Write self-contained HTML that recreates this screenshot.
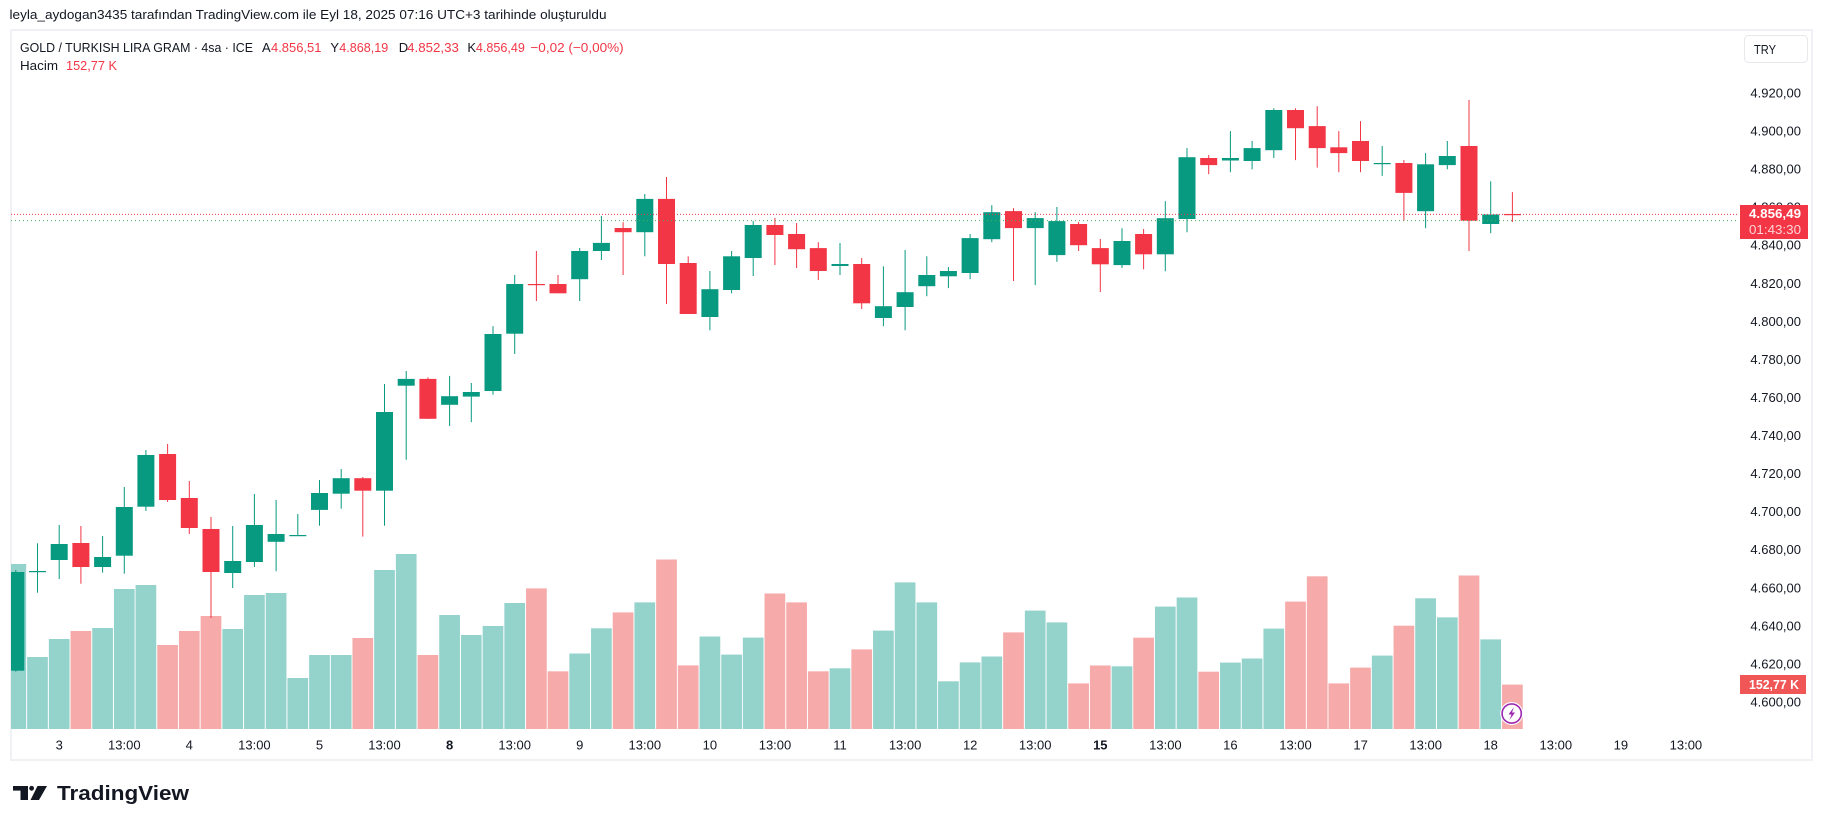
<!DOCTYPE html>
<html><head><meta charset="utf-8">
<style>
html,body{margin:0;padding:0;background:#fff;}
body{width:1824px;height:829px;overflow:hidden;}
svg{display:block;font-family:"Liberation Sans",Arial,sans-serif;}
.G{fill:#089981}.R{fill:#f23645}.gv{fill:#94d2cc}.rv{fill:#f6aaaa}
.t{font-size:13px;fill:#131722;dominant-baseline:central}
.ta{font-size:13px;fill:#131722;dominant-baseline:central;text-anchor:middle}
.pa{font-size:13px;fill:#131722;dominant-baseline:central;text-anchor:end}
.red{fill:#f23645}
</style></head>
<body>
<svg width="1824" height="829" viewBox="0 0 1824 829" xmlns="http://www.w3.org/2000/svg">
<defs><clipPath id="plot"><rect x="11" y="30" width="1727" height="699"/></clipPath></defs>
<rect x="0" y="0" width="1824" height="829" fill="#fff"/>
<text x="9.5" y="15" class="t" style="font-size:12.5px" textLength="597" lengthAdjust="spacingAndGlyphs">leyla_aydogan3435 tarafından TradingView.com ile Eyl 18, 2025 07:16 UTC+3 tarihinde oluşturuldu</text>
<rect x="11" y="30" width="1801" height="730" fill="none" stroke="#eff1f4" stroke-width="2"/>

<g clip-path="url(#plot)">
<g transform="translate(15.8 0)"><rect class="gv" x="-10.35" y="564" width="20.7" height="165"/><rect class="G" x="-.5" y="570" width="1" height="101.7"/><rect class="G" x="-8.5" y="572" width="17" height="98.7"/></g>
<g transform="translate(37.5 0)"><rect class="gv" x="-10.35" y="657" width="20.7" height="72"/><rect class="G" x="-.5" y="543.3" width="1" height="49.4"/><rect class="G" x="-8.5" y="571" width="17" height="1.2"/></g>
<g transform="translate(59.2 0)"><rect class="gv" x="-10.35" y="639" width="20.7" height="90"/><rect class="G" x="-.5" y="525" width="1" height="54"/><rect class="G" x="-8.5" y="544" width="17" height="16"/></g>
<g transform="translate(80.9 0)"><rect class="rv" x="-10.35" y="631" width="20.7" height="98"/><rect class="R" x="-.5" y="526" width="1" height="57.7"/><rect class="R" x="-8.5" y="543" width="17" height="24"/></g>
<g transform="translate(102.6 0)"><rect class="gv" x="-10.35" y="628" width="20.7" height="101"/><rect class="G" x="-.5" y="536" width="1" height="36.7"/><rect class="G" x="-8.5" y="557" width="17" height="10"/></g>
<g transform="translate(124.3 0)"><rect class="gv" x="-10.35" y="589" width="20.7" height="140"/><rect class="G" x="-.5" y="487" width="1" height="86.7"/><rect class="G" x="-8.5" y="507" width="17" height="48.7"/></g>
<g transform="translate(145.9 0)"><rect class="gv" x="-10.35" y="585" width="20.7" height="144"/><rect class="G" x="-.5" y="450" width="1" height="61"/><rect class="G" x="-8.5" y="455" width="17" height="51.7"/></g>
<g transform="translate(167.6 0)"><rect class="rv" x="-10.35" y="645" width="20.7" height="84"/><rect class="R" x="-.5" y="444" width="1" height="58"/><rect class="R" x="-8.5" y="454" width="17" height="46"/></g>
<g transform="translate(189.3 0)"><rect class="rv" x="-10.35" y="631" width="20.7" height="98"/><rect class="R" x="-.5" y="481" width="1" height="53"/><rect class="R" x="-8.5" y="498" width="17" height="30"/></g>
<g transform="translate(211.0 0)"><rect class="rv" x="-10.35" y="616" width="20.7" height="113"/><rect class="R" x="-.5" y="517" width="1" height="101"/><rect class="R" x="-8.5" y="529" width="17" height="43"/></g>
<g transform="translate(232.7 0)"><rect class="gv" x="-10.35" y="629" width="20.7" height="100"/><rect class="G" x="-.5" y="526" width="1" height="62"/><rect class="G" x="-8.5" y="561" width="17" height="12"/></g>
<g transform="translate(254.4 0)"><rect class="gv" x="-10.35" y="595" width="20.7" height="134"/><rect class="G" x="-.5" y="494" width="1" height="73"/><rect class="G" x="-8.5" y="525" width="17" height="37"/></g>
<g transform="translate(276.1 0)"><rect class="gv" x="-10.35" y="593" width="20.7" height="136"/><rect class="G" x="-.5" y="500" width="1" height="71.2"/><rect class="G" x="-8.5" y="534" width="17" height="7.8"/></g>
<g transform="translate(297.8 0)"><rect class="gv" x="-10.35" y="678" width="20.7" height="51"/><rect class="G" x="-.5" y="514" width="1" height="22"/><rect class="G" x="-8.5" y="535" width="17" height="1.2"/></g>
<g transform="translate(319.5 0)"><rect class="gv" x="-10.35" y="655" width="20.7" height="74"/><rect class="G" x="-.5" y="480" width="1" height="45.7"/><rect class="G" x="-8.5" y="493" width="17" height="16.9"/></g>
<g transform="translate(341.2 0)"><rect class="gv" x="-10.35" y="655" width="20.7" height="74"/><rect class="G" x="-.5" y="469" width="1" height="39.7"/><rect class="G" x="-8.5" y="478.2" width="17" height="15.5"/></g>
<g transform="translate(362.8 0)"><rect class="rv" x="-10.35" y="638" width="20.7" height="91"/><rect class="R" x="-.5" y="477" width="1" height="59.6"/><rect class="R" x="-8.5" y="478.2" width="17" height="12.5"/></g>
<g transform="translate(384.5 0)"><rect class="gv" x="-10.35" y="570" width="20.7" height="159"/><rect class="G" x="-.5" y="384" width="1" height="141.7"/><rect class="G" x="-8.5" y="412" width="17" height="78.7"/></g>
<g transform="translate(406.2 0)"><rect class="gv" x="-10.35" y="554" width="20.7" height="175"/><rect class="G" x="-.5" y="371" width="1" height="88.8"/><rect class="G" x="-8.5" y="378.9" width="17" height="6.8"/></g>
<g transform="translate(427.9 0)"><rect class="rv" x="-10.35" y="655" width="20.7" height="74"/><rect class="R" x="-.5" y="377.4" width="1" height="41.4"/><rect class="R" x="-8.5" y="378.9" width="17" height="39.9"/></g>
<g transform="translate(449.6 0)"><rect class="gv" x="-10.35" y="615" width="20.7" height="114"/><rect class="G" x="-.5" y="375.9" width="1" height="50.1"/><rect class="G" x="-8.5" y="396.2" width="17" height="8.6"/></g>
<g transform="translate(471.3 0)"><rect class="gv" x="-10.35" y="635" width="20.7" height="94"/><rect class="G" x="-.5" y="383" width="1" height="39.2"/><rect class="G" x="-8.5" y="392" width="17" height="4.6"/></g>
<g transform="translate(493.0 0)"><rect class="gv" x="-10.35" y="626" width="20.7" height="103"/><rect class="G" x="-.5" y="326.2" width="1" height="68.5"/><rect class="G" x="-8.5" y="334" width="17" height="57"/></g>
<g transform="translate(514.7 0)"><rect class="gv" x="-10.35" y="603" width="20.7" height="126"/><rect class="G" x="-.5" y="275" width="1" height="79"/><rect class="G" x="-8.5" y="284" width="17" height="49.7"/></g>
<g transform="translate(536.4 0)"><rect class="rv" x="-10.35" y="588.4" width="20.7" height="140.6"/><rect class="R" x="-.5" y="251" width="1" height="50"/><rect class="R" x="-8.5" y="284" width="17" height="1.2"/></g>
<g transform="translate(558.0 0)"><rect class="rv" x="-10.35" y="671.3" width="20.7" height="57.7"/><rect class="R" x="-.5" y="275" width="1" height="18.3"/><rect class="R" x="-8.5" y="284" width="17" height="9.3"/></g>
<g transform="translate(579.7 0)"><rect class="gv" x="-10.35" y="653.5" width="20.7" height="75.5"/><rect class="G" x="-.5" y="248" width="1" height="53"/><rect class="G" x="-8.5" y="251" width="17" height="28.2"/></g>
<g transform="translate(601.4 0)"><rect class="gv" x="-10.35" y="628.3" width="20.7" height="100.7"/><rect class="G" x="-.5" y="216" width="1" height="44"/><rect class="G" x="-8.5" y="242.9" width="17" height="8.1"/></g>
<g transform="translate(623.1 0)"><rect class="rv" x="-10.35" y="612.4" width="20.7" height="116.6"/><rect class="R" x="-.5" y="222.2" width="1" height="52.8"/><rect class="R" x="-8.5" y="228" width="17" height="4.2"/></g>
<g transform="translate(644.8 0)"><rect class="gv" x="-10.35" y="602.4" width="20.7" height="126.6"/><rect class="G" x="-.5" y="194" width="1" height="62.3"/><rect class="G" x="-8.5" y="198.9" width="17" height="33.3"/></g>
<g transform="translate(666.5 0)"><rect class="rv" x="-10.35" y="559.5" width="20.7" height="169.5"/><rect class="R" x="-.5" y="177" width="1" height="127"/><rect class="R" x="-8.5" y="198.9" width="17" height="65.1"/></g>
<g transform="translate(688.2 0)"><rect class="rv" x="-10.35" y="665.4" width="20.7" height="63.6"/><rect class="R" x="-.5" y="256.3" width="1" height="57.7"/><rect class="R" x="-8.5" y="263" width="17" height="51"/></g>
<g transform="translate(709.9 0)"><rect class="gv" x="-10.35" y="636.5" width="20.7" height="92.5"/><rect class="G" x="-.5" y="271" width="1" height="59.3"/><rect class="G" x="-8.5" y="289.2" width="17" height="27.8"/></g>
<g transform="translate(731.6 0)"><rect class="gv" x="-10.35" y="654.6" width="20.7" height="74.4"/><rect class="G" x="-.5" y="251" width="1" height="42.3"/><rect class="G" x="-8.5" y="256.3" width="17" height="33.7"/></g>
<g transform="translate(753.2 0)"><rect class="gv" x="-10.35" y="637.6" width="20.7" height="91.4"/><rect class="G" x="-.5" y="221" width="1" height="55"/><rect class="G" x="-8.5" y="225" width="17" height="33"/></g>
<g transform="translate(774.9 0)"><rect class="rv" x="-10.35" y="593.5" width="20.7" height="135.5"/><rect class="R" x="-.5" y="218" width="1" height="47"/><rect class="R" x="-8.5" y="225" width="17" height="10"/></g>
<g transform="translate(796.6 0)"><rect class="rv" x="-10.35" y="602.4" width="20.7" height="126.6"/><rect class="R" x="-.5" y="223" width="1" height="45"/><rect class="R" x="-8.5" y="234" width="17" height="15.2"/></g>
<g transform="translate(818.3 0)"><rect class="rv" x="-10.35" y="671.3" width="20.7" height="57.7"/><rect class="R" x="-.5" y="242.2" width="1" height="37.8"/><rect class="R" x="-8.5" y="248.1" width="17" height="22.9"/></g>
<g transform="translate(840.0 0)"><rect class="gv" x="-10.35" y="668.3" width="20.7" height="60.7"/><rect class="G" x="-.5" y="243" width="1" height="32"/><rect class="G" x="-8.5" y="264" width="17" height="2"/></g>
<g transform="translate(861.7 0)"><rect class="rv" x="-10.35" y="649.4" width="20.7" height="79.6"/><rect class="R" x="-.5" y="258" width="1" height="51"/><rect class="R" x="-8.5" y="264" width="17" height="39.3"/></g>
<g transform="translate(883.4 0)"><rect class="gv" x="-10.35" y="630.6" width="20.7" height="98.4"/><rect class="G" x="-.5" y="266.3" width="1" height="59.9"/><rect class="G" x="-8.5" y="306.2" width="17" height="11.8"/></g>
<g transform="translate(905.1 0)"><rect class="gv" x="-10.35" y="582.4" width="20.7" height="146.6"/><rect class="G" x="-.5" y="250" width="1" height="80.3"/><rect class="G" x="-8.5" y="292.2" width="17" height="14.8"/></g>
<g transform="translate(926.8 0)"><rect class="gv" x="-10.35" y="602.4" width="20.7" height="126.6"/><rect class="G" x="-.5" y="256.3" width="1" height="39.9"/><rect class="G" x="-8.5" y="275" width="17" height="11.2"/></g>
<g transform="translate(948.4 0)"><rect class="gv" x="-10.35" y="681.3" width="20.7" height="47.7"/><rect class="G" x="-.5" y="267" width="1" height="21.1"/><rect class="G" x="-8.5" y="271" width="17" height="5.3"/></g>
<g transform="translate(970.1 0)"><rect class="gv" x="-10.35" y="662.4" width="20.7" height="66.6"/><rect class="G" x="-.5" y="234" width="1" height="45.2"/><rect class="G" x="-8.5" y="238.1" width="17" height="34.9"/></g>
<g transform="translate(991.8 0)"><rect class="gv" x="-10.35" y="656.5" width="20.7" height="72.5"/><rect class="G" x="-.5" y="205.2" width="1" height="37"/><rect class="G" x="-8.5" y="212.2" width="17" height="27"/></g>
<g transform="translate(1013.5 0)"><rect class="rv" x="-10.35" y="632.4" width="20.7" height="96.6"/><rect class="R" x="-.5" y="208.1" width="1" height="72.9"/><rect class="R" x="-8.5" y="211.1" width="17" height="17"/></g>
<g transform="translate(1035.2 0)"><rect class="gv" x="-10.35" y="610.6" width="20.7" height="118.4"/><rect class="G" x="-.5" y="212.2" width="1" height="72.9"/><rect class="G" x="-8.5" y="218.1" width="17" height="10"/></g>
<g transform="translate(1056.9 0)"><rect class="gv" x="-10.35" y="622.4" width="20.7" height="106.6"/><rect class="G" x="-.5" y="207" width="1" height="54.8"/><rect class="G" x="-8.5" y="221.1" width="17" height="34"/></g>
<g transform="translate(1078.6 0)"><rect class="rv" x="-10.35" y="683.4" width="20.7" height="45.6"/><rect class="R" x="-.5" y="222" width="1" height="29"/><rect class="R" x="-8.5" y="224" width="17" height="21.2"/></g>
<g transform="translate(1100.3 0)"><rect class="rv" x="-10.35" y="665.5" width="20.7" height="63.5"/><rect class="R" x="-.5" y="239" width="1" height="53"/><rect class="R" x="-8.5" y="248.1" width="17" height="16.2"/></g>
<g transform="translate(1122.0 0)"><rect class="gv" x="-10.35" y="666.3" width="20.7" height="62.7"/><rect class="G" x="-.5" y="228.2" width="1" height="39.8"/><rect class="G" x="-8.5" y="241" width="17" height="24.1"/></g>
<g transform="translate(1143.6 0)"><rect class="rv" x="-10.35" y="637.7" width="20.7" height="91.3"/><rect class="R" x="-.5" y="229" width="1" height="40.3"/><rect class="R" x="-8.5" y="234" width="17" height="20.3"/></g>
<g transform="translate(1165.3 0)"><rect class="gv" x="-10.35" y="606.6" width="20.7" height="122.4"/><rect class="G" x="-.5" y="201.2" width="1" height="70.1"/><rect class="G" x="-8.5" y="218.2" width="17" height="36.1"/></g>
<g transform="translate(1187.0 0)"><rect class="gv" x="-10.35" y="597.5" width="20.7" height="131.5"/><rect class="G" x="-.5" y="148.1" width="1" height="84.2"/><rect class="G" x="-8.5" y="157.2" width="17" height="61.8"/></g>
<g transform="translate(1208.7 0)"><rect class="rv" x="-10.35" y="671.7" width="20.7" height="57.3"/><rect class="R" x="-.5" y="155.1" width="1" height="19.1"/><rect class="R" x="-8.5" y="158" width="17" height="7.1"/></g>
<g transform="translate(1230.4 0)"><rect class="gv" x="-10.35" y="662.6" width="20.7" height="66.4"/><rect class="G" x="-.5" y="131.1" width="1" height="41.1"/><rect class="G" x="-8.5" y="158" width="17" height="2.5"/></g>
<g transform="translate(1252.1 0)"><rect class="gv" x="-10.35" y="658.5" width="20.7" height="70.5"/><rect class="G" x="-.5" y="141" width="1" height="28.3"/><rect class="G" x="-8.5" y="148.1" width="17" height="12.9"/></g>
<g transform="translate(1273.8 0)"><rect class="gv" x="-10.35" y="628.6" width="20.7" height="100.4"/><rect class="G" x="-.5" y="108.3" width="1" height="49.7"/><rect class="G" x="-8.5" y="110" width="17" height="40.2"/></g>
<g transform="translate(1295.5 0)"><rect class="rv" x="-10.35" y="601.6" width="20.7" height="127.4"/><rect class="R" x="-.5" y="108.3" width="1" height="51.8"/><rect class="R" x="-8.5" y="110" width="17" height="18.2"/></g>
<g transform="translate(1317.2 0)"><rect class="rv" x="-10.35" y="576.3" width="20.7" height="152.7"/><rect class="R" x="-.5" y="106.2" width="1" height="61.4"/><rect class="R" x="-8.5" y="126.1" width="17" height="22"/></g>
<g transform="translate(1338.8 0)"><rect class="rv" x="-10.35" y="683.4" width="20.7" height="45.6"/><rect class="R" x="-.5" y="131.1" width="1" height="41.1"/><rect class="R" x="-8.5" y="147.3" width="17" height="5.8"/></g>
<g transform="translate(1360.5 0)"><rect class="rv" x="-10.35" y="667.6" width="20.7" height="61.4"/><rect class="R" x="-.5" y="121.1" width="1" height="51.1"/><rect class="R" x="-8.5" y="141" width="17" height="20"/></g>
<g transform="translate(1382.2 0)"><rect class="gv" x="-10.35" y="655.6" width="20.7" height="73.4"/><rect class="G" x="-.5" y="146" width="1" height="29.9"/><rect class="G" x="-8.5" y="163" width="17" height="1.2"/></g>
<g transform="translate(1403.9 0)"><rect class="rv" x="-10.35" y="625.7" width="20.7" height="103.3"/><rect class="R" x="-.5" y="160.1" width="1" height="60.6"/><rect class="R" x="-8.5" y="163" width="17" height="29.9"/></g>
<g transform="translate(1425.6 0)"><rect class="gv" x="-10.35" y="598.3" width="20.7" height="130.7"/><rect class="G" x="-.5" y="153.1" width="1" height="75.1"/><rect class="G" x="-8.5" y="164.3" width="17" height="46.9"/></g>
<g transform="translate(1447.3 0)"><rect class="gv" x="-10.35" y="617.4" width="20.7" height="111.6"/><rect class="G" x="-.5" y="141" width="1" height="28.3"/><rect class="G" x="-8.5" y="156" width="17" height="9.1"/></g>
<g transform="translate(1469.0 0)"><rect class="rv" x="-10.35" y="575.5" width="20.7" height="153.5"/><rect class="R" x="-.5" y="100" width="1" height="151"/><rect class="R" x="-8.5" y="146" width="17" height="74.7"/></g>
<g transform="translate(1490.7 0)"><rect class="gv" x="-10.35" y="639.4" width="20.7" height="89.6"/><rect class="G" x="-.5" y="181.3" width="1" height="51.9"/><rect class="G" x="-8.5" y="214.5" width="17" height="9.5"/></g>
<g transform="translate(1512.4 0)"><rect class="rv" x="-10.35" y="684.6" width="20.7" height="44.4"/><rect class="R" x="-.5" y="192.1" width="1" height="29.9"/><rect class="R" x="-8.5" y="214" width="17" height="1.2"/></g>

<line x1="11" y1="214.4" x2="1740" y2="214.4" stroke="#f23645" stroke-width="1" stroke-dasharray="1 2"/>
<line x1="11" y1="220.6" x2="1740" y2="220.6" stroke="#4caf50" stroke-width="1" stroke-dasharray="1 3"/>
</g>

<!-- lightning icon -->
<circle cx="1511.7" cy="713.5" r="11.5" fill="#fff"/>
<circle cx="1511.7" cy="713.5" r="9.6" fill="#fff" stroke="#9c27b0" stroke-width="1.6"/>
<polygon points="1514,707 1508.5,714.5 1511.5,714.5 1509.5,720 1515,712.5 1512,712.5" fill="#9c27b0"/>

<!-- legend -->
<text x="20" y="47.5" class="t" textLength="233" lengthAdjust="spacingAndGlyphs">GOLD / TURKISH LIRA GRAM · 4sa · ICE</text>
<text x="262" y="47.5" class="t">A</text>
<text x="271" y="47.5" class="t red" textLength="50.4" lengthAdjust="spacingAndGlyphs">4.856,51</text>
<text x="330.4" y="47.5" class="t">Y</text>
<text x="339.3" y="47.5" class="t red" textLength="49" lengthAdjust="spacingAndGlyphs">4.868,19</text>
<text x="398.7" y="47.5" class="t">D</text>
<text x="407.1" y="47.5" class="t red" textLength="51.8" lengthAdjust="spacingAndGlyphs">4.852,33</text>
<text x="467.4" y="47.5" class="t">K</text>
<text x="475.9" y="47.5" class="t red" textLength="49" lengthAdjust="spacingAndGlyphs">4.856,49</text>
<text x="530.4" y="47.5" class="t red" textLength="93.3" lengthAdjust="spacingAndGlyphs">−0,02 (−0,00%)</text>
<text x="20" y="65.7" class="t" textLength="38" lengthAdjust="spacingAndGlyphs">Hacim</text>
<text x="66" y="65.7" class="t red" textLength="51" lengthAdjust="spacingAndGlyphs">152,77 K</text>

<!-- TRY button -->
<rect x="1744.5" y="35.5" width="63" height="27" rx="4" fill="#fff" stroke="#e6e8ec"/>
<text x="1754" y="49.5" class="t" textLength="22" lengthAdjust="spacingAndGlyphs">TRY</text>

<!-- price axis -->
<text x="1801" y="93" class="pa">4.920,00</text>
<text x="1801" y="131.1" class="pa">4.900,00</text>
<text x="1801" y="169.1" class="pa">4.880,00</text>
<text x="1801" y="207.2" class="pa">4.860,00</text>
<text x="1801" y="245.2" class="pa">4.840,00</text>
<text x="1801" y="283.3" class="pa">4.820,00</text>
<text x="1801" y="321.4" class="pa">4.800,00</text>
<text x="1801" y="359.4" class="pa">4.780,00</text>
<text x="1801" y="397.5" class="pa">4.760,00</text>
<text x="1801" y="435.6" class="pa">4.740,00</text>
<text x="1801" y="473.6" class="pa">4.720,00</text>
<text x="1801" y="511.7" class="pa">4.700,00</text>
<text x="1801" y="549.7" class="pa">4.680,00</text>
<text x="1801" y="587.8" class="pa">4.660,00</text>
<text x="1801" y="625.9" class="pa">4.640,00</text>
<text x="1801" y="663.9" class="pa">4.620,00</text>
<text x="1801" y="702" class="pa">4.600,00</text>

<!-- current price tag -->
<rect x="1740" y="205" width="68" height="34" fill="#f23645"/>
<text x="1801" y="213.5" class="pa" style="fill:#fff;font-weight:bold" textLength="52" lengthAdjust="spacingAndGlyphs">4.856,49</text>
<text x="1801" y="229.5" class="pa" style="fill:#ffd3d7" textLength="52" lengthAdjust="spacingAndGlyphs">01:43:30</text>

<!-- volume tag -->
<rect x="1740" y="675" width="66" height="19" fill="#f05656"/>
<text x="1799" y="684.5" class="pa" style="fill:#fff;font-weight:bold" textLength="50" lengthAdjust="spacingAndGlyphs">152,77 K</text>

<!-- time axis -->
<text x="59.2" y="745" class="ta">3</text>
<text x="124.3" y="745" class="ta">13:00</text>
<text x="189.3" y="745" class="ta">4</text>
<text x="254.4" y="745" class="ta">13:00</text>
<text x="319.5" y="745" class="ta">5</text>
<text x="384.5" y="745" class="ta">13:00</text>
<text x="449.6" y="745" class="ta" font-weight="bold">8</text>
<text x="514.7" y="745" class="ta">13:00</text>
<text x="579.8" y="745" class="ta">9</text>
<text x="644.8" y="745" class="ta">13:00</text>
<text x="709.9" y="745" class="ta">10</text>
<text x="775" y="745" class="ta">13:00</text>
<text x="840" y="745" class="ta">11</text>
<text x="905.1" y="745" class="ta">13:00</text>
<text x="970.2" y="745" class="ta">12</text>
<text x="1035.2" y="745" class="ta">13:00</text>
<text x="1100.3" y="745" class="ta" font-weight="bold">15</text>
<text x="1165.4" y="745" class="ta">13:00</text>
<text x="1230.4" y="745" class="ta">16</text>
<text x="1295.5" y="745" class="ta">13:00</text>
<text x="1360.6" y="745" class="ta">17</text>
<text x="1425.7" y="745" class="ta">13:00</text>
<text x="1490.7" y="745" class="ta">18</text>
<text x="1555.8" y="745" class="ta">13:00</text>
<text x="1620.9" y="745" class="ta">19</text>
<text x="1685.9" y="745" class="ta">13:00</text>

<!-- footer logo -->
<rect x="13" y="786" width="15" height="4.6" fill="#131722"/>
<rect x="20.5" y="786" width="7.5" height="14" fill="#131722"/>
<circle cx="31.6" cy="788.3" r="2.4" fill="#131722"/>
<polygon points="37.5,786 47,786 39,800 30.5,800" fill="#131722"/>
<text x="57" y="800" style="font-size:20px;font-weight:bold;fill:#131722" textLength="132" lengthAdjust="spacingAndGlyphs">TradingView</text>
</svg>
</body></html>
